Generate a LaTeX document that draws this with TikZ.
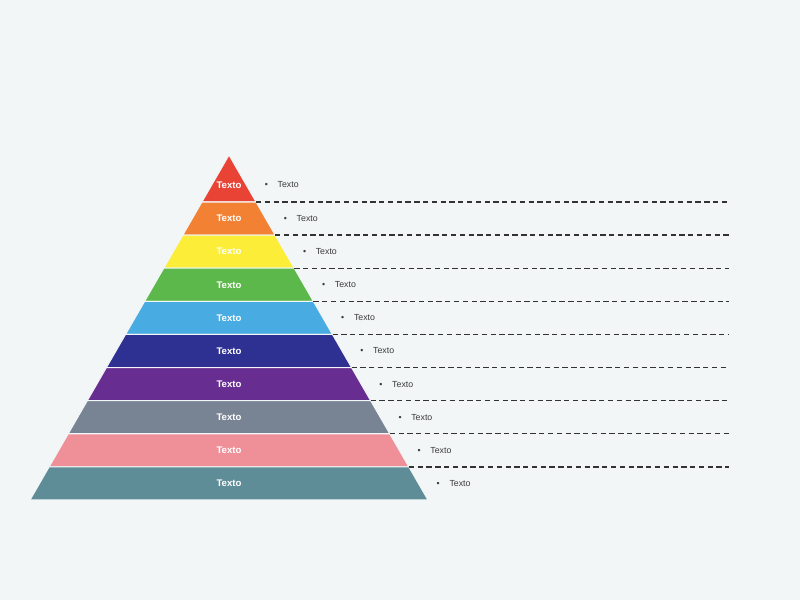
\documentclass[tikz,border=0pt]{standalone}
\usepackage{fontspec}
\setmainfont{Liberation Sans}
\usetikzlibrary{positioning}
\definecolor{pyrBg}{HTML}{F2F6F7}
\definecolor{pyrRed}{HTML}{E94335}
\definecolor{pyrOrange}{HTML}{F28134}
\definecolor{pyrYellow}{HTML}{FCEE38}
\definecolor{pyrGreen}{HTML}{5DB84C}
\definecolor{pyrSky}{HTML}{48ACE2}
\definecolor{pyrNavy}{HTML}{2E3192}
\definecolor{pyrPurple}{HTML}{672D91}
\definecolor{pyrSlate}{HTML}{788394}
\definecolor{pyrPink}{HTML}{EF9099}
\definecolor{pyrTeal}{HTML}{5E8C97}
\definecolor{pyrDash}{HTML}{333333}
\definecolor{pyrText}{HTML}{3C3C3C}
\tikzset{
  layer/.style={draw=pyrBg, line width=0.9pt, line join=miter},
  lyrlbl/.style={font=\fontsize{8.2}{9}\selectfont\bfseries, text=white, inner sep=0pt},
  itemlbl/.style={font=\fontsize{7.5}{8}\selectfont, text=pyrText, anchor=west, inner sep=0pt},
  guide/.style={draw=pyrDash, line width=1.2pt, dash pattern=on 4.5pt off 3pt},
}
\begin{document}
\begin{tikzpicture}[x=0.03cm,y=-0.03cm]
  \fill[pyrBg] (0,0) rectangle (800,600);
  % pyramid layers, top to bottom
  \foreach \i/\col in {1/pyrRed,2/pyrOrange,3/pyrYellow,4/pyrGreen,5/pyrSky,
                       6/pyrNavy,7/pyrPurple,8/pyrSlate,9/pyrPink,10/pyrTeal}{
    \pgfmathsetmacro{\yb}{202+(\i-1)*33.111}
    \pgfmathsetmacro{\yt}{\i==1 ? 155 : 202+(\i-2)*33.111}
    \pgfmathsetmacro{\wb}{(\yb-155)/345*199}
    \pgfmathsetmacro{\wt}{(\yt-155)/345*199}
    \pgfmathsetmacro{\ym}{\i==1 ? 185 : 202+(\i-1.5)*33.111}
    \coordinate (bl\i) at ({229-\wb},\yb);
    \coordinate (br\i) at ({229+\wb},\yb);
    \filldraw[layer, fill=\col] (bl\i) -- (br\i) -- ({229+\wt},\yt) -- ({229-\wt},\yt) -- cycle;
    \node[lyrlbl] (lbl\i) at (229,\ym) {Texto};
    \node[itemlbl] (item\i) at ({229+\wb+8.5},\ym) {\textbullet\hspace{8.3pt}Texto};
  }
  % dashed guides
  \foreach \i in {1,...,9}{
    \coordinate (end\i) at (729,{202+(\i-1)*33.111});
    \draw[guide] (br\i) -- (end\i);
  }
\end{tikzpicture}
\end{document}
